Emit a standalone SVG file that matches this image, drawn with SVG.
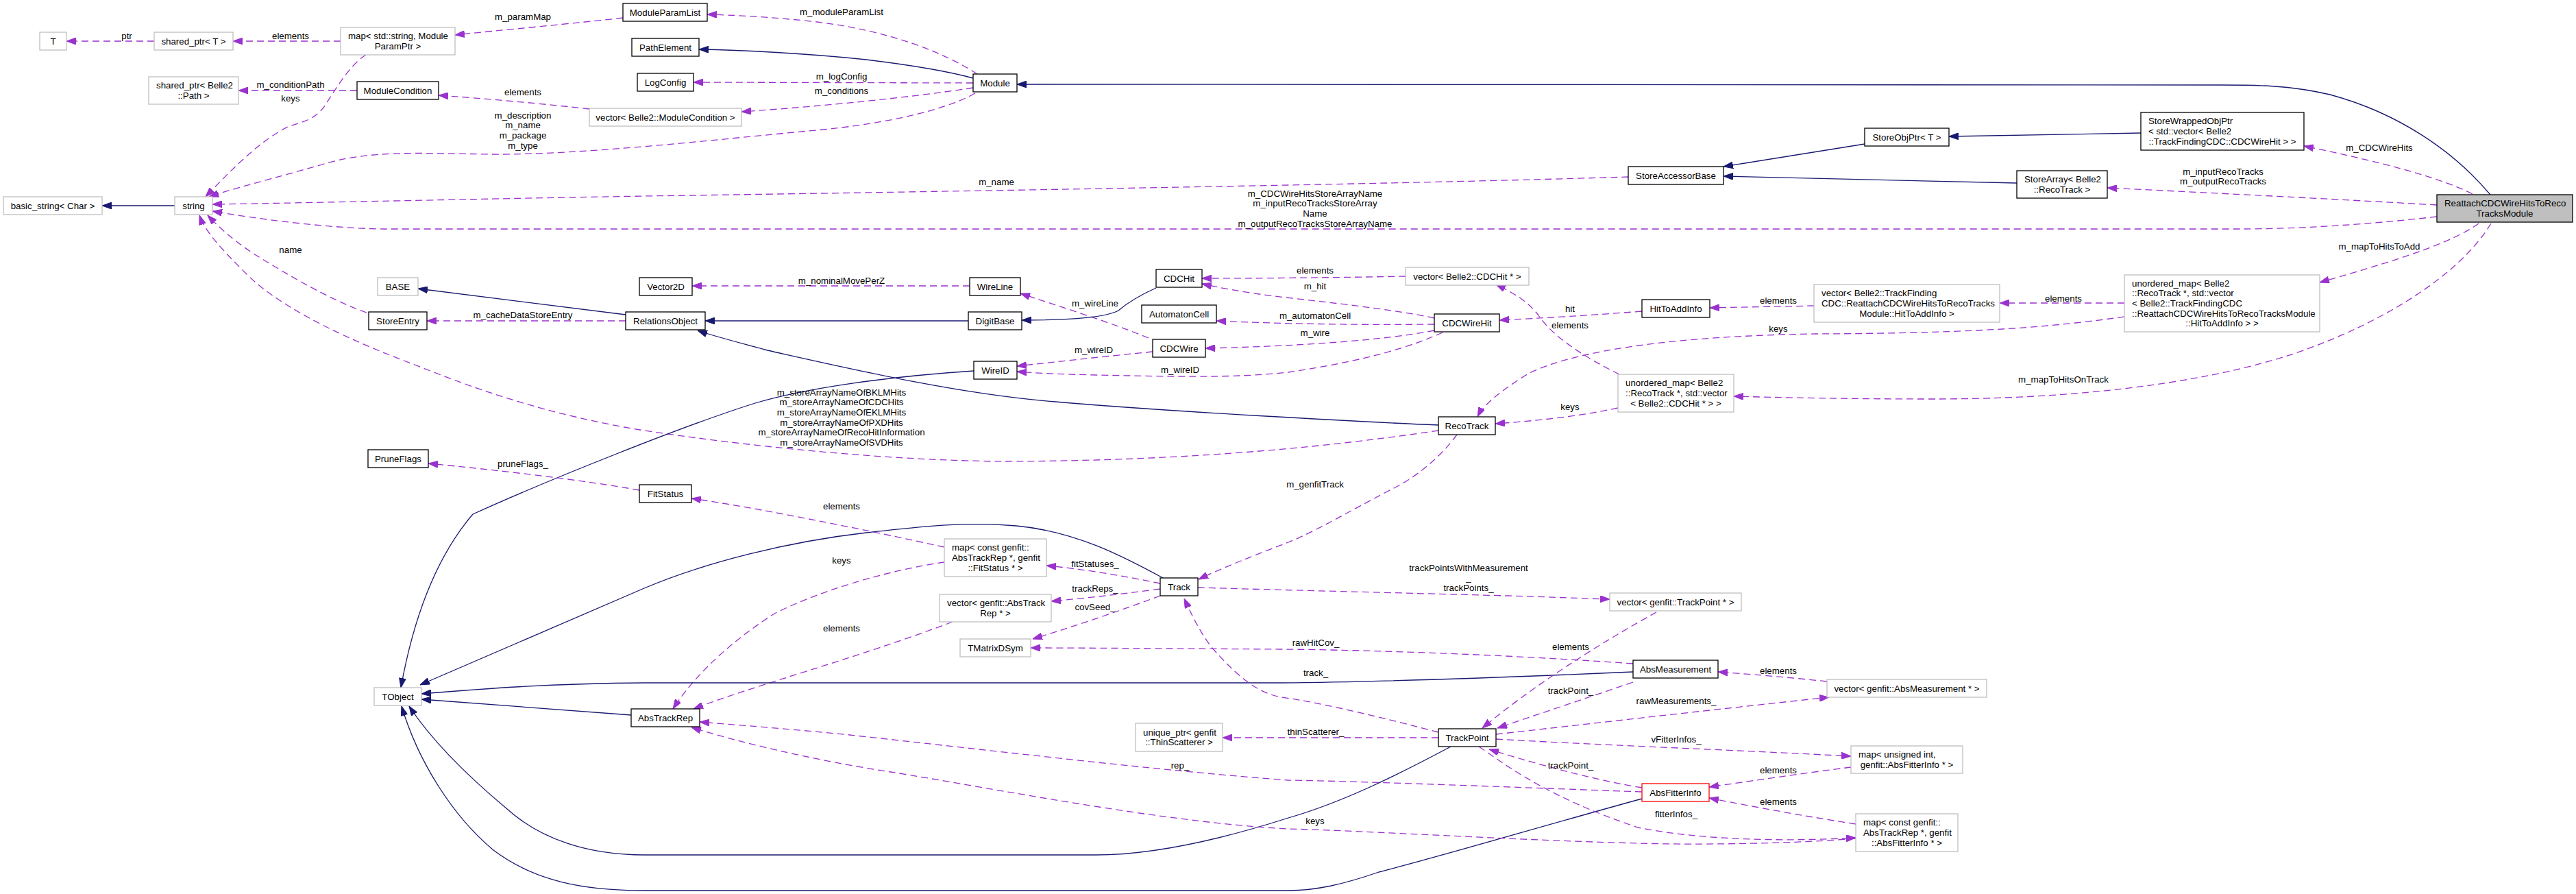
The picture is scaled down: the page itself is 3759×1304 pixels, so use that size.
<svg xmlns="http://www.w3.org/2000/svg" width="3759" height="1304" viewBox="0 0 3759 1304">
<style>
text{font-family:"Liberation Sans",Arial,Helvetica,sans-serif;font-size:13.3px;fill:#000}
.c{text-anchor:middle}
.l{text-anchor:start}
rect{fill:#fff;stroke:#000;stroke-width:1.3}
.g rect{stroke:#bfbfbf}
.r rect{stroke:#ff0000}
.m rect{fill:#bfbfbf}
.d{fill:none;stroke:#9a32cd;stroke-width:1.3;stroke-dasharray:10,6;marker-end:url(#ad)}
.s{fill:none;stroke:#191970;stroke-width:1.3;marker-end:url(#as)}
</style>
<defs>
<marker id="ad" viewBox="0 0 14 10" refX="14" refY="5" markerWidth="14" markerHeight="10" markerUnits="userSpaceOnUse" orient="auto"><path d="M0,0 L14,5 L0,10 z" fill="#9a32cd" stroke="#9a32cd"/></marker>
<marker id="as" viewBox="0 0 14 10" refX="14" refY="5" markerWidth="14" markerHeight="10" markerUnits="userSpaceOnUse" orient="auto"><path d="M0,0 L14,5 L0,10 z" fill="#191970" stroke="#191970"/></marker>
</defs>
<rect x="0" y="0" width="3759" height="1304" style="fill:#fff;stroke:none"/>
<g id="edges">
<path class="d" d="M225,60 L97,60"/>
<path class="d" d="M497,60 L340,60"/>
<path class="d" d="M909,26 C850,33 720,45 664,51"/>
<path class="d" d="M1426,108 C1380,78 1300,45 1192,32 C1130,25 1070,22 1032,21"/>
<path class="s" d="M1420,114 C1380,103 1330,95 1264,87 C1180,78 1080,73 1020,72"/>
<path class="d" d="M1420,121 L1012,120"/>
<path class="d" d="M1420,128 C1330,142 1200,155 1082,163"/>
<path class="d" d="M1423,136 C1390,155 1310,180 1180,191 C1050,203 850,226 719,225 C620,224 540,218 470,240 C400,260 340,275 305,287"/>
<path class="d" d="M860,159 C800,152 700,143 640,139"/>
<path class="d" d="M521,132 L348,132"/>
<path class="d" d="M534,80 C510,95 490,130 474,154 C460,175 440,178 420,185 C380,205 340,245 300,287"/>
<path class="s" d="M255,300 L149,300"/>
<path class="d" d="M2376,258 C2000,270 1200,282 940,286 C700,290 450,296 310,298"/>
<path class="d" d="M3556,316 C3450,328 3350,334 3270,334 L560,334 C480,333 380,320 310,308"/>
<path class="s" d="M2721,210 L2515,243"/>
<path class="s" d="M3124,194 L2844,199"/>
<path class="s" d="M2943,267 C2800,264 2650,260 2515,257"/>
<path class="s" d="M3634,284 C3580,220 3500,165 3400,138 C3340,124 3290,124 3240,124 L1484,123"/>
<path class="d" d="M3608,283 C3560,258 3460,233 3362,213"/>
<path class="d" d="M3556,299 C3400,290 3200,280 3075,274"/>
<path class="d" d="M3617,326 C3570,360 3460,390 3385,412"/>
<path class="d" d="M3635,326 C3590,400 3480,470 3350,515 C3200,565 3000,582 2820,582 C2700,582 2600,580 2530,578"/>
<path class="d" d="M3100,442 L2918,442"/>
<path class="d" d="M3100,462 C3000,476 2900,486 2650,487 C2450,490 2300,510 2230,545 C2190,570 2165,590 2156,608"/>
<path class="d" d="M2647,446 C2600,447 2540,448 2495,449"/>
<path class="d" d="M2396,454 C2320,460 2250,464 2188,467"/>
<path class="d" d="M2363,546 C2310,520 2265,490 2245,460 C2230,440 2210,428 2183,415"/>
<path class="d" d="M2361,595 C2300,608 2240,614 2182,618"/>
<path class="d" d="M2051,403 C1950,405 1830,406 1754,406"/>
<path class="d" d="M2093,464 C2030,450 1900,437 1860,432 C1820,427 1780,420 1754,414"/>
<path class="d" d="M2093,473 C2000,474 1880,473 1775,468"/>
<path class="d" d="M2093,482 C2000,500 1850,506 1759,508"/>
<path class="d" d="M2105,485 C2060,505 2000,525 1880,543 C1800,552 1700,549 1600,547 C1550,546 1510,544 1484,542"/>
<path class="d" d="M1682,513 C1610,520 1540,528 1484,534"/>
<path class="d" d="M1676,493 C1620,470 1540,445 1489,428"/>
<path class="s" d="M1687,420 C1660,432 1645,442 1632,453 C1610,465 1540,467 1491,467"/>
<path class="d" d="M1415,417 L1010,417"/>
<path class="s" d="M1413,468 L1029,468"/>
<path class="s" d="M913,459 L610,421"/>
<path class="d" d="M913,468 L623,468"/>
<path class="d" d="M535,456 C480,437 410,395 370,370 C340,350 320,332 303,314"/>
<path class="s" d="M2099,620 C2000,616 1700,600 1540,586 C1400,575 1250,540 1120,511 C1080,500 1040,490 1018,482"/>
<path class="d" d="M2099,628 C1950,650 1750,672 1468,673 C1300,672 1100,652 940,628 C800,605 700,570 600,530 C480,485 400,440 360,400 C330,370 300,340 291,314"/>
<path class="d" d="M2126,634 C2100,670 2060,700 2030,714 C1970,745 1920,775 1880,791 C1830,810 1780,830 1749,845"/>
<path class="s" d="M1421,541 C1300,549 1180,565 1102,588 C1000,620 800,700 690,750 C630,820 600,920 585,1003"/>
<path class="d" d="M933,715 C850,700 720,685 625,676"/>
<path class="d" d="M1378,798 C1250,770 1100,740 1009,727"/>
<path class="d" d="M1378,820 C1300,831 1200,860 1130,895 C1060,940 1010,990 982,1034"/>
<path class="d" d="M1390,907 C1250,960 1100,1000 1012,1034"/>
<path class="d" d="M1693,851 C1640,840 1580,830 1527,825"/>
<path class="d" d="M1693,859 C1640,866 1590,872 1534,877"/>
<path class="d" d="M1693,869 C1650,885 1580,910 1507,932"/>
<path class="s" d="M1697,843 C1640,812 1570,775 1483,767 C1400,760 1330,770 1264,777 C1150,790 1030,820 940,858 L613,999"/>
<path class="d" d="M2383,968 C2200,955 2000,948 1870,947 C1700,946 1580,945 1504,945"/>
<path class="s" d="M2383,980 C2200,988 2000,995 1870,996 L940,996 C800,997 700,1005 615,1012"/>
<path class="d" d="M2099,1068 C2030,1050 1930,1025 1870,1017 C1830,1010 1800,980 1767,943 C1750,920 1738,895 1728,873"/>
<path class="d" d="M2396,1155 C2200,1148 2000,1140 1880,1138 C1700,1125 1450,1095 1240,1072 C1150,1063 1070,1057 1021,1053"/>
<path class="d" d="M2396,1149 C2340,1140 2260,1120 2173,1093"/>
<path class="d" d="M2383,995 C2310,1020 2250,1040 2185,1062"/>
<path class="d" d="M2417,893 C2350,930 2250,990 2163,1062"/>
<path class="d" d="M1748,857 C1850,860 2050,865 2200,869 C2270,871 2310,873 2349,874"/>
<path class="d" d="M2099,1076 L1784,1076"/>
<path class="s" d="M2117,1089 C2040,1130 1960,1170 1880,1193 C1780,1225 1680,1247 1599,1247 L940,1247 C860,1247 790,1225 740,1180 C680,1130 630,1080 597,1030"/>
<path class="s" d="M2396,1165 C2250,1205 2100,1250 2012,1272 C1960,1290 1920,1299 1880,1299 L940,1299 C850,1299 780,1285 720,1240 C660,1190 610,1110 586,1030"/>
<path class="s" d="M921,1043 L615,1020"/>
<path class="d" d="M2183,1071 C2300,1058 2500,1035 2669,1017"/>
<path class="d" d="M2666,994 C2610,988 2550,983 2507,980"/>
<path class="d" d="M2183,1078 C2300,1085 2550,1095 2701,1103"/>
<path class="d" d="M2701,1119 C2630,1128 2550,1140 2494,1148"/>
<path class="d" d="M2708,1202 C2630,1190 2550,1175 2494,1164"/>
<path class="d" d="M2158,1089 C2190,1110 2250,1160 2390,1207 C2480,1225 2600,1228 2708,1222"/>
<path class="d" d="M2708,1223 C2600,1232 2450,1232 2390,1230 C2200,1225 2000,1212 1880,1209 C1700,1200 1450,1150 1300,1126 C1180,1108 1070,1080 1009,1061"/>
<g class="c">
<text x="185" y="56.5">ptr</text>
<text x="424" y="56.5">elements</text>
<text x="763" y="28.5">m_paramMap</text>
<text x="1228" y="21.5">m_moduleParamList</text>
<text x="1228" y="115.5">m_logConfig</text>
<text x="1228" y="136.5">m_conditions</text>
<text x="763" y="172.5">m_description</text>
<text x="763" y="187.2">m_name</text>
<text x="763" y="201.9">m_package</text>
<text x="763" y="216.6">m_type</text>
<text x="763" y="138.5">elements</text>
<text x="424" y="127.5">m_conditionPath</text>
<text x="424" y="147.5">keys</text>
<text x="1454" y="269.5">m_name</text>
<text x="1919" y="286.5">m_CDCWireHitsStoreArrayName</text>
<text x="1919" y="301.2">m_inputRecoTracksStoreArray</text>
<text x="1919" y="315.9">Name</text>
<text x="1919" y="330.6">m_outputRecoTracksStoreArrayName</text>
<text x="3472" y="219.5">m_CDCWireHits</text>
<text x="3244" y="254.5">m_inputRecoTracks</text>
<text x="3244" y="269.2">m_outputRecoTracks</text>
<text x="3472" y="363.5">m_mapToHitsToAdd</text>
<text x="3011" y="557.5">m_mapToHitsOnTrack</text>
<text x="3011" y="439.5">elements</text>
<text x="2595" y="483.5">keys</text>
<text x="2595" y="442.5">elements</text>
<text x="2291" y="454.5">hit</text>
<text x="2291" y="478.5">elements</text>
<text x="2291" y="597.5">keys</text>
<text x="1919" y="398.5">elements</text>
<text x="1919" y="421.5">m_hit</text>
<text x="1919" y="464.5">m_automatonCell</text>
<text x="1919" y="489.5">m_wire</text>
<text x="1722" y="543.5">m_wireID</text>
<text x="1596" y="514.5">m_wireID</text>
<text x="1598" y="446.5">m_wireLine</text>
<text x="1228" y="413.5">m_nominalMovePerZ</text>
<text x="763" y="463.5">m_cacheDataStoreEntry</text>
<text x="424" y="368.5">name</text>
<text x="1228" y="576.5">m_storeArrayNameOfBKLMHits</text>
<text x="1228" y="591.2">m_storeArrayNameOfCDCHits</text>
<text x="1228" y="605.9">m_storeArrayNameOfEKLMHits</text>
<text x="1228" y="620.6">m_storeArrayNameOfPXDHits</text>
<text x="1228" y="635.3">m_storeArrayNameOfRecoHitInformation</text>
<text x="1228" y="650">m_storeArrayNameOfSVDHits</text>
<text x="1919" y="710.5">m_genfitTrack</text>
<text x="763" y="680.5">pruneFlags_</text>
<text x="1228" y="742.5">elements</text>
<text x="1228" y="821.5">keys</text>
<text x="1228" y="920.5">elements</text>
<text x="1598" y="826.5">fitStatuses_</text>
<text x="1598" y="862.5">trackReps_</text>
<text x="1598" y="889.5">covSeed_</text>
<text x="1920" y="941.5">rawHitCov_</text>
<text x="1920" y="985.5">track_</text>
<text x="1722" y="1120.5">rep_</text>
<text x="2292" y="1120.5">trackPoint_</text>
<text x="2292" y="1011.5">trackPoint_</text>
<text x="2292" y="947.5">elements</text>
<text x="2143" y="832.5">trackPointsWithMeasurement</text>
<text x="2143" y="847.2">_</text>
<text x="2143" y="861.9">trackPoints_</text>
<text x="1920" y="1071.5">thinScatterer_</text>
<text x="2446" y="1026.5">rawMeasurements_</text>
<text x="2595" y="982.5">elements</text>
<text x="2446" y="1082.5">vFitterInfos_</text>
<text x="2595" y="1127.5">elements</text>
<text x="2595" y="1173.5">elements</text>
<text x="2446" y="1191.5">fitterInfos_</text>
<text x="1919" y="1201.5">keys</text>
</g>
</g>
<g id="n_T" class="g"><rect x="58" y="47" width="39" height="26"/><text class="c" x="77.5" y="64.5">T</text></g>
<g id="n_shared_ptr_T" class="g"><rect x="225" y="47" width="115" height="26"/><text class="c" x="282.5" y="64.5">shared_ptr&lt; T &gt;</text></g>
<g id="n_map_string" class="g"><rect x="497" y="40" width="167" height="40"/><text class="l" x="508" y="57.15">map&lt; std::string, Module</text><text class="c" x="580.5" y="71.85">ParamPtr &gt;</text></g>
<g id="n_ModuleParamList"><rect x="909" y="5" width="123" height="26"/><text class="c" x="970.5" y="22.5">ModuleParamList</text></g>
<g id="n_PathElement"><rect x="922" y="56" width="98" height="26"/><text class="c" x="971" y="73.5">PathElement</text></g>
<g id="n_LogConfig"><rect x="930" y="107" width="82" height="26"/><text class="c" x="971" y="124.5">LogConfig</text></g>
<g id="n_Module"><rect x="1420" y="108" width="64" height="26"/><text class="c" x="1452" y="125.5">Module</text></g>
<g id="n_shared_ptr_Path" class="g"><rect x="217" y="112" width="131" height="40"/><text class="l" x="228" y="129.15">shared_ptr&lt; Belle2</text><text class="c" x="282.5" y="143.85">::Path &gt;</text></g>
<g id="n_ModuleCondition"><rect x="521" y="119" width="119" height="26"/><text class="c" x="580.5" y="136.5">ModuleCondition</text></g>
<g id="n_vector_ModuleCondition" class="g"><rect x="860" y="158" width="222" height="26"/><text class="c" x="971" y="175.5">vector&lt; Belle2::ModuleCondition &gt;</text></g>
<g id="n_basic_string" class="g"><rect x="5" y="287" width="144" height="26"/><text class="c" x="77" y="304.5">basic_string&lt; Char &gt;</text></g>
<g id="n_string" class="g"><rect x="255" y="287" width="55" height="26"/><text class="c" x="282.5" y="304.5">string</text></g>
<g id="n_StoreObjPtr"><rect x="2721" y="187" width="123" height="26"/><text class="c" x="2782.5" y="204.5">StoreObjPtr&lt; T &gt;</text></g>
<g id="n_StoreAccessorBase"><rect x="2376" y="243" width="139" height="26"/><text class="c" x="2445.5" y="260.5">StoreAccessorBase</text></g>
<g id="n_StoreWrappedObjPtr"><rect x="3124" y="164" width="238" height="55"/><text class="l" x="3135" y="181.3">StoreWrappedObjPtr</text><text class="l" x="3135" y="196">&lt; std::vector&lt; Belle2</text><text class="c" x="3243" y="210.7">::TrackFindingCDC::CDCWireHit &gt; &gt;</text></g>
<g id="n_StoreArray"><rect x="2943" y="249" width="132" height="40"/><text class="l" x="2954" y="266.15">StoreArray&lt; Belle2</text><text class="c" x="3009" y="280.85">::RecoTrack &gt;</text></g>
<g id="n_Reattach" class="m"><rect x="3556" y="284" width="198" height="40"/><text class="l" x="3567" y="301.15">ReattachCDCWireHitsToReco</text><text class="c" x="3655" y="315.85">TracksModule</text></g>
<g id="n_BASE" class="g"><rect x="551" y="405" width="59" height="26"/><text class="c" x="580.5" y="422.5">BASE</text></g>
<g id="n_Vector2D"><rect x="933" y="405" width="77" height="26"/><text class="c" x="971.5" y="422.5">Vector2D</text></g>
<g id="n_WireLine"><rect x="1415" y="405" width="74" height="26"/><text class="c" x="1452" y="422.5">WireLine</text></g>
<g id="n_StoreEntry"><rect x="538" y="455" width="85" height="26"/><text class="c" x="580.5" y="472.5">StoreEntry</text></g>
<g id="n_RelationsObject"><rect x="913" y="455" width="116" height="26"/><text class="c" x="971" y="472.5">RelationsObject</text></g>
<g id="n_DigitBase"><rect x="1413" y="455" width="78" height="26"/><text class="c" x="1452" y="472.5">DigitBase</text></g>
<g id="n_CDCHit"><rect x="1687" y="393" width="67" height="26"/><text class="c" x="1720.5" y="410.5">CDCHit</text></g>
<g id="n_AutomatonCell"><rect x="1666" y="445" width="109" height="26"/><text class="c" x="1720.5" y="462.5">AutomatonCell</text></g>
<g id="n_CDCWire"><rect x="1682" y="495" width="77" height="26"/><text class="c" x="1720.5" y="512.5">CDCWire</text></g>
<g id="n_WireID"><rect x="1421" y="527" width="63" height="26"/><text class="c" x="1452.5" y="544.5">WireID</text></g>
<g id="n_vector_CDCHit" class="g"><rect x="2051" y="390" width="180" height="26"/><text class="c" x="2141" y="407.5">vector&lt; Belle2::CDCHit * &gt;</text></g>
<g id="n_CDCWireHit"><rect x="2093" y="458" width="95" height="26"/><text class="c" x="2140.5" y="475.5">CDCWireHit</text></g>
<g id="n_HitToAddInfo"><rect x="2396" y="437" width="99" height="26"/><text class="c" x="2445.5" y="454.5">HitToAddInfo</text></g>
<g id="n_vector_HitToAddInfo" class="g"><rect x="2647" y="415" width="271" height="55"/><text class="l" x="2658" y="432.3">vector&lt; Belle2::TrackFinding</text><text class="l" x="2658" y="447">CDC::ReattachCDCWireHitsToRecoTracks</text><text class="c" x="2782.5" y="461.7">Module::HitToAddInfo &gt;</text></g>
<g id="n_umap_CDCHit" class="g"><rect x="2361" y="546" width="169" height="55"/><text class="l" x="2372" y="563.3">unordered_map&lt; Belle2</text><text class="l" x="2372" y="578">::RecoTrack *, std::vector</text><text class="c" x="2445.5" y="592.7">&lt; Belle2::CDCHit * &gt; &gt;</text></g>
<g id="n_RecoTrack"><rect x="2099" y="608" width="83" height="26"/><text class="c" x="2140.5" y="625.5">RecoTrack</text></g>
<g id="n_umap_HitToAddInfo" class="g"><rect x="3100" y="401" width="285" height="83"/><text class="l" x="3111" y="417.6">unordered_map&lt; Belle2</text><text class="l" x="3111" y="432.3">::RecoTrack *, std::vector</text><text class="l" x="3111" y="447">&lt; Belle2::TrackFindingCDC</text><text class="l" x="3111" y="461.7">::ReattachCDCWireHitsToRecoTracksModule</text><text class="c" x="3242.5" y="476.4">::HitToAddInfo &gt; &gt;</text></g>
<g id="n_PruneFlags"><rect x="537" y="656" width="88" height="26"/><text class="c" x="581" y="673.5">PruneFlags</text></g>
<g id="n_FitStatus"><rect x="933" y="707" width="76" height="26"/><text class="c" x="971" y="724.5">FitStatus</text></g>
<g id="n_map_FitStatus" class="g"><rect x="1378" y="786" width="149" height="55"/><text class="l" x="1389" y="803.3">map&lt; const genfit::</text><text class="l" x="1389" y="818">AbsTrackRep *, genfit</text><text class="c" x="1452.5" y="832.7">::FitStatus * &gt;</text></g>
<g id="n_Track"><rect x="1693" y="843" width="55" height="26"/><text class="c" x="1720.5" y="860.5">Track</text></g>
<g id="n_vector_AbsTrackRep" class="g"><rect x="1371" y="867" width="163" height="40"/><text class="l" x="1382" y="884.15">vector&lt; genfit::AbsTrack</text><text class="c" x="1452.5" y="898.85">Rep * &gt;</text></g>
<g id="n_TMatrixDSym" class="g"><rect x="1401" y="932" width="103" height="26"/><text class="c" x="1452.5" y="949.5">TMatrixDSym</text></g>
<g id="n_vector_TrackPoint" class="g"><rect x="2349" y="865" width="192" height="26"/><text class="c" x="2445" y="882.5">vector&lt; genfit::TrackPoint * &gt;</text></g>
<g id="n_AbsMeasurement"><rect x="2383" y="963" width="124" height="26"/><text class="c" x="2445" y="980.5">AbsMeasurement</text></g>
<g id="n_vector_AbsMeasurement" class="g"><rect x="2666" y="991" width="233" height="26"/><text class="c" x="2782.5" y="1008.5">vector&lt; genfit::AbsMeasurement * &gt;</text></g>
<g id="n_TObject" class="g"><rect x="546" y="1003" width="69" height="26"/><text class="c" x="580.5" y="1020.5">TObject</text></g>
<g id="n_AbsTrackRep"><rect x="921" y="1034" width="100" height="26"/><text class="c" x="971" y="1051.5">AbsTrackRep</text></g>
<g id="n_unique_ptr" class="g"><rect x="1657" y="1055" width="127" height="41"/><text class="l" x="1668" y="1072.65">unique_ptr&lt; genfit</text><text class="c" x="1720.5" y="1087.35">::ThinScatterer &gt;</text></g>
<g id="n_TrackPoint"><rect x="2099" y="1063" width="84" height="26"/><text class="c" x="2141" y="1080.5">TrackPoint</text></g>
<g id="n_map_unsigned" class="g"><rect x="2701" y="1088" width="163" height="40"/><text class="l" x="2712" y="1105.15">map&lt; unsigned int,</text><text class="c" x="2782.5" y="1119.85">genfit::AbsFitterInfo * &gt;</text></g>
<g id="n_AbsFitterInfo" class="r"><rect x="2396" y="1143" width="98" height="26"/><text class="c" x="2445" y="1160.5">AbsFitterInfo</text></g>
<g id="n_map_AbsFitterInfo" class="g"><rect x="2708" y="1187" width="149" height="55"/><text class="l" x="2719" y="1204.3">map&lt; const genfit::</text><text class="l" x="2719" y="1219">AbsTrackRep *, genfit</text><text class="c" x="2782.5" y="1233.7">::AbsFitterInfo * &gt;</text></g>
</svg>
